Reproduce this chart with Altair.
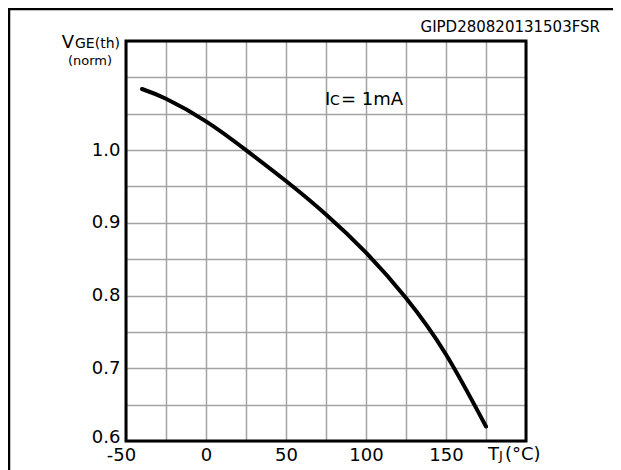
import altair as alt
import pandas as pd

# ---- data ----
temps = [-40, -25, 0, 25, 50, 75, 100, 125, 150, 175]
vge_norm = [1.084, 1.0705, 1.0395, 1.000, 0.9575, 0.9115, 0.859, 0.7965, 0.719, 0.620]

x_grid = [-50, -25, 0, 25, 50, 75, 100, 125, 150, 175, 200]
x_labels = [-50, 0, 50, 100, 150]
y_grid = [0.6, 0.65, 0.7, 0.75, 0.8, 0.85, 0.9, 0.95, 1.0, 1.05, 1.1, 1.15]
y_labels = [0.6, 0.7, 0.8, 0.9, 1.0]
x_domain = [-50, 200]
y_domain = [0.6, 1.15]

FONT = "DejaVu Sans"
GRID = "#a3a3a3"

df = pd.DataFrame({"T": temps, "V": vge_norm})
one = pd.DataFrame({"a": [0]})

xs = alt.Scale(domain=x_domain, nice=False, zero=False)
ys = alt.Scale(domain=y_domain, nice=False, zero=False)

x_lab_expr = "indexof(" + str(x_labels) + ", datum.value) >= 0 ? '' + datum.value : ''"
y_lab_expr = "indexof(" + str(y_labels) + ", datum.value) >= 0 ? format(datum.value, '.1f') : ''"


def make_x_axis():
    return alt.Axis(values=x_grid, labelExpr=x_lab_expr, title=None, ticks=False,
                    domain=False, grid=True, gridColor=GRID, gridWidth=1.5,
                    labelFont=FONT, labelFontSize=18, labelColor="black",
                    labelPadding=5, labelFlush=False, labelOverlap=False, labelBound=False,
                    labelOffset=alt.condition("datum.value == -50", alt.value(-5), alt.value(0)))


def make_y_axis():
    return alt.Axis(values=y_grid, labelExpr=y_lab_expr, title=None, ticks=False,
                    domain=False, grid=True, gridColor=GRID, gridWidth=1.5,
                    labelFont=FONT, labelFontSize=18, labelColor="black",
                    labelPadding=6, labelFlush=False, labelOverlap=False, labelBound=False,
                    labelOffset=alt.condition("datum.value == 0.6", alt.value(-4), alt.value(0)))


curve = alt.Chart(df).mark_line(color="black", strokeWidth=4, interpolate="natural",
                                strokeCap="round").encode(
    x=alt.X("T:Q", scale=xs, axis=make_x_axis()),
    y=alt.Y("V:Q", scale=ys, axis=make_y_axis()),
)

frame_df = pd.DataFrame({"T": [x_domain[0]], "T2": [x_domain[1]],
                         "V": [y_domain[0]], "V2": [y_domain[1]]})
frame = alt.Chart(frame_df).mark_rect(fillOpacity=0, stroke="black", strokeWidth=3).encode(
    x=alt.X("T:Q", scale=xs, axis=make_x_axis()), x2="T2:Q",
    y=alt.Y("V:Q", scale=ys, axis=make_y_axis()), y2="V2:Q",
)

# outer figure border (left and top)
border_left = alt.Chart(one).mark_rule(color="black", strokeWidth=2.5).encode(
    x=alt.value(-117), y=alt.value(-33), y2=alt.value(470))
border_top = alt.Chart(one).mark_rule(color="black", strokeWidth=2.5).encode(
    x=alt.value(-118), x2=alt.value(520), y=alt.value(-32))


def txt(s, x, y, size, align="left", baseline="alphabetic"):
    return alt.Chart(one).mark_text(text=s, font=FONT, fontSize=size, color="black",
                                    align=align, baseline=baseline).encode(
        x=alt.value(x), y=alt.value(y))


texts = [
    txt("GIPD280820131503FSR", 474, -9, 15, align="right"),
    txt("V", -52, 7, 18, align="right"),
    txt("GE(th)", -51, 7, 14),
    txt("(norm)", -14, 24, 13, align="right"),
    txt("I", 199, 64, 18),
    txt("C", 204, 64, 14),
    txt("= 1mA", 215, 64, 18),
    txt("T", 362, 419, 18),
    txt("J", 373, 419, 13),
    txt("(°C)", 379, 419, 18),
]

chart = alt.layer(curve, frame, border_left, border_top, *texts).properties(
    width=400, height=400,
    autosize=alt.AutoSizeParams(type="none"),
    padding={"left": 118, "top": 33, "right": 87, "bottom": 29},
).configure_view(stroke=None).configure(background="white")

chart.save("out.html", embed_options={"renderer": "svg", "actions": False})
